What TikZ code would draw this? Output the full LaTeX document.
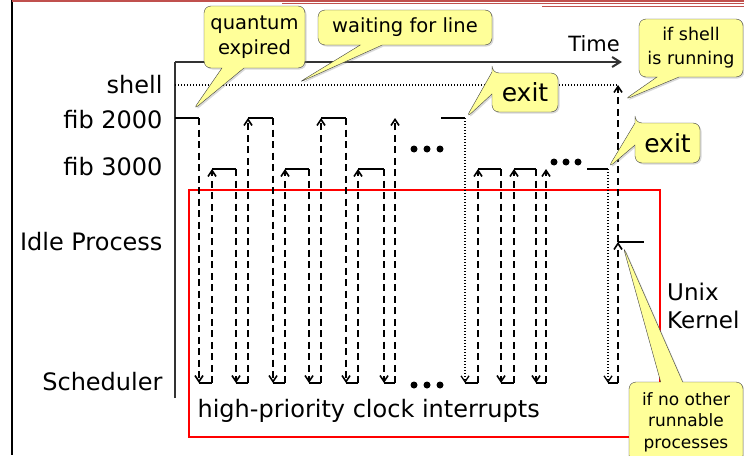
\documentclass[tikz,border=0pt]{standalone}
\usepackage{fontspec}
\setmainfont{DejaVu Sans}
\usetikzlibrary{arrows.meta,shapes.callouts,shadows}

\definecolor{noteyellow}{RGB}{255,255,153}
\definecolor{slidered}{RGB}{192,80,77}

\tikzset{
  note/.style={rectangle callout, draw=black!75, fill=noteyellow, rounded corners=7pt,
    align=center, inner sep=0pt, callout pointer width=22pt,
    drop shadow={shadow xshift=1.5pt, shadow yshift=-1.5pt, opacity=0.3},
    font=\fontsize{19.5}{25}\selectfont},
  rowlabel/.style={anchor=east, font=\fontsize{24}{26}\selectfont},
  run/.style={line width=2pt},
  sw/.style={line width=1.6pt, dash pattern=on 7pt off 4.5pt},
  quit/.style={line width=1.3pt, dash pattern=on 1.3pt off 1.7pt},
}

\begin{document}
\begin{tikzpicture}[x=1pt, y=-1pt, >={Straight Barb[length=6pt,width=8pt]}]
  \useasboundingbox (0,0) rectangle (744,455);
  % slide frame
  \draw[line width=2.5pt] (12,0) -- (12,455);
  \draw[slidered, line width=1.5pt] (12,1) -- (744,1);
  \draw[slidered, line width=1pt] (282,3.5) -- (744,3.5);
  \draw[slidered, line width=1pt] (542,6.5) -- (744,6.5);

  % kernel part
  \draw[red, line width=2pt] (189,190) rectangle (660,437);
  \node[anchor=west, align=left, inner sep=0pt, font=\fontsize{23}{28}\selectfont] (kernel) at (667,306) {Unix\\Kernel};
  \node[anchor=west, font=\fontsize{24}{26}\selectfont] (clock) at (194,411) {high-priority clock interrupts};

  % axes
  \draw[line width=2pt, black!80] (175,398) -- (175,62);
  \draw[line width=2pt, black!80, ->, >={Straight Barb[length=8pt,width=10pt]}] (175,62) -- (622,62);
  \node[font=\fontsize{21}{24}\selectfont] (time) at (594,44) {Time};
  \draw[quit, line width=1.2pt] (175,85) -- (618,85);

  % rows
  \node[rowlabel] (shell) at (166,85) {shell};
  \node[rowlabel] (fibA) at (166,120) {fib 2000};
  \node[rowlabel] (fibB) at (166,167) {fib 3000};
  \node[rowlabel] (idle) at (166,242) {Idle Process};
  \node[rowlabel] (sched) at (166,382) {Scheduler};

  % running slices
  \foreach \a/\b/\y in {175/199/118, 212/236/169, 248/273/118, 285/309/169, 321/346/118,
      358/384/169, 441/465/118, 478/501/169, 514/536/169, 587/608/169, 618/644/242}
    \draw[run] (\a,\y) -- (\b,\y);

  % switches through the scheduler
  \foreach \d/\u/\from/\to/\s in {199/212/118/169/sw, 236/248/169/118/sw, 273/285/118/169/sw,
      309/321/169/118/sw, 346/358/118/169/sw, 384/395/169/118/sw, 465/478/118/169/quit,
      501/514/169/169/sw, 536/546/169/169/sw, 608/618/169/242/quit} {
    \draw[\s, ->] (\d,\from) -- (\d,383);
    \draw[line width=1.6pt] (\d,383) -- (\u,383);
    \draw[sw, ->] (\u,383) -- (\u,\to);
  }
  \draw[sw, ->] (618,242) -- (618,85);

  % more of the same
  \foreach \x in {414,427,440} {
    \fill (\x,149) circle (3.5pt);
    \fill (\x,385) circle (3.5pt);
  }
  \foreach \x in {554,566,578}
    \fill (\x,162) circle (3.5pt);

  % notes
  \coordinate (qtip) at (193,110);
  \coordinate (wtip) at (298,83);
  \coordinate (xtipA) at (466,118);
  \coordinate (stip) at (624,100);
  \coordinate (xtipB) at (608,168);
  \coordinate (itip) at (623,246);
  \node[note, minimum width=101pt, minimum height=62pt, callout absolute pointer=(qtip)] (quantum) at (254.5,37) {quantum\\expired};
  \node[note, minimum width=174pt, minimum height=35pt, callout absolute pointer=(wtip)] (waiting) at (405,27.5) {waiting for line};
  \node[note, minimum width=66pt, minimum height=39pt, font=\fontsize{25}{28}\selectfont, callout absolute pointer=(xtipA)] (exitA) at (525,92.5) {exit};
  \node[note, minimum width=104pt, minimum height=58pt, font=\fontsize{17.5}{24}\selectfont, callout absolute pointer=(stip)] (ifshell) at (691,48) {if shell\\is running};
  \node[note, minimum width=65pt, minimum height=40pt, font=\fontsize{25}{28}\selectfont, callout absolute pointer=(xtipB)] (exitB) at (667.5,143) {exit};
  \node[note, minimum width=114pt, minimum height=80pt, font=\fontsize{17}{21.5}\selectfont, callout absolute pointer=(itip)] (noother) at (686,422) {if no other\\runnable\\processes};
\end{tikzpicture}
\end{document}
